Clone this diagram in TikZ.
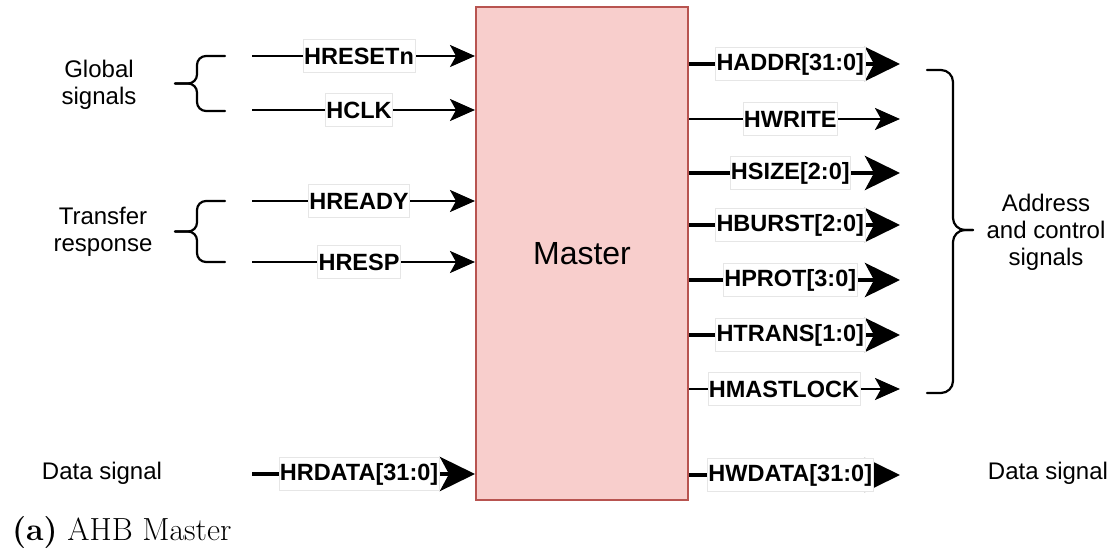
\documentclass[tikz,border=0pt]{standalone}
\usepackage{fontspec}
\newfontfamily\arial{Liberation Sans}
\usetikzlibrary{arrows.meta}
\definecolor{masterfill}{HTML}{F8CECC}
\definecolor{masterdraw}{HTML}{B85450}
\definecolor{labelrule}{HTML}{E6E6E6}

\begin{document}
\begin{tikzpicture}[x=1pt,y=-1pt,
  sig/.style={font=\arial\fontsize{23.5}{28}\selectfont\bfseries, fill=white,
    draw=labelrule, line width=0.6pt, inner xsep=1pt, inner ysep=0pt,
    minimum height=33pt, pos=0.48},
  thinwire/.style={line width=2.4pt, -{Stealth[length=25pt,width=22pt,inset=6pt]}},
  buswire/.style={line width=4.8pt, -{Stealth[length=35pt,width=34pt,inset=9pt]}},
  note/.style={font=\arial\fontsize{24}{27}\selectfont, align=center, inner sep=0pt},
  bracket/.style={line width=2.2pt, line cap=round, line join=round}
]
\useasboundingbox (0,0) rectangle (1115,548);

% the master block
\node[fill=masterfill, draw=masterdraw, line width=2pt,
      minimum width=212pt, minimum height=493pt,
      font=\arial\fontsize{32}{38}\selectfont] (master) at (582,253.5) {Master};

% inputs on the left
\coordinate (rst)   at (252,56);
\coordinate (clk)   at (252,110);
\coordinate (rdy)   at (252,201);
\coordinate (resp)  at (252,262);
\coordinate (rdata) at (252,474);
\draw[thinwire] (rst)   -- (rst -| master.west)   node[sig] (lrst)   {HRESETn};
\draw[thinwire] (clk)   -- (clk -| master.west)   node[sig] (lclk)   {HCLK};
\draw[thinwire] (rdy)   -- (rdy -| master.west)   node[sig] (lrdy)   {HREADY};
\draw[thinwire] (resp)  -- (resp -| master.west)  node[sig] (lresp)  {HRESP};
\draw[buswire]  (rdata) -- (rdata -| master.west) node[sig] (lrdata) {HRDATA[31:0]};

% outputs on the right
\coordinate (addr)  at (900,64);
\coordinate (write) at (900,119);
\coordinate (size)  at (900,173);
\coordinate (burst) at (900,225);
\coordinate (prot)  at (900,280);
\coordinate (trans) at (900,335);
\coordinate (lock)  at (900,389);
\coordinate (wdata) at (900,475);
\draw[buswire]  (addr -| master.east)  -- (addr)  node[sig] (laddr)  {HADDR[31:0]};
\draw[thinwire] (write -| master.east) -- (write) node[sig] (lwrite) {HWRITE};
\draw[buswire]  (size -| master.east)  -- (size)  node[sig] (lsize)  {HSIZE[2:0]};
\draw[buswire]  (burst -| master.east) -- (burst) node[sig] (lburst) {HBURST[2:0]};
\draw[buswire]  (prot -| master.east)  -- (prot)  node[sig] (lprot)  {HPROT[3:0]};
\draw[buswire]  (trans -| master.east) -- (trans) node[sig] (ltrans) {HTRANS[1:0]};
\draw[thinwire] (lock -| master.east)  -- (lock)  node[sig, pos=0.45] (llock) {HMASTLOCK};
\draw[buswire]  (wdata -| master.east) -- (wdata) node[sig] (lwdata) {HWDATA[31:0]};

% group brackets
\draw[bracket, rounded corners=9pt] (225,56) -- (197,56) -- (197,83.5) -- (175,83.5);
\draw[bracket, rounded corners=9pt] (225,111) -- (197,111) -- (197,83.5) -- (175,83.5);
\draw[bracket, rounded corners=9pt] (225,201) -- (197,201) -- (197,231.5) -- (175,231.5);
\draw[bracket, rounded corners=9pt] (225,262) -- (197,262) -- (197,231.5) -- (175,231.5);
\draw[bracket, rounded corners=12pt] (927,70) -- (953,70) -- (953,230) -- (973,230);
\draw[bracket, rounded corners=12pt] (927,393) -- (953,393) -- (953,230) -- (973,230);

% group names
\node[note] (gglobal) at (99,85)   {Global\\signals};
\node[note] (gresp)   at (103,232) {Transfer\\response};
\node[note] (gaddr)   at (1046,232) {Address\\and control\\signals};
\node[note] (gdin)    at (102,473) {Data signal};
\node[note] (gdout)   at (1048,473) {Data signal};

% caption
\node[anchor=base west, inner sep=0pt, font=\fontsize{32}{38}\selectfont] (cap)
  at (12,540) {\textbf{(a)}\ AHB Master};
\end{tikzpicture}
\end{document}
